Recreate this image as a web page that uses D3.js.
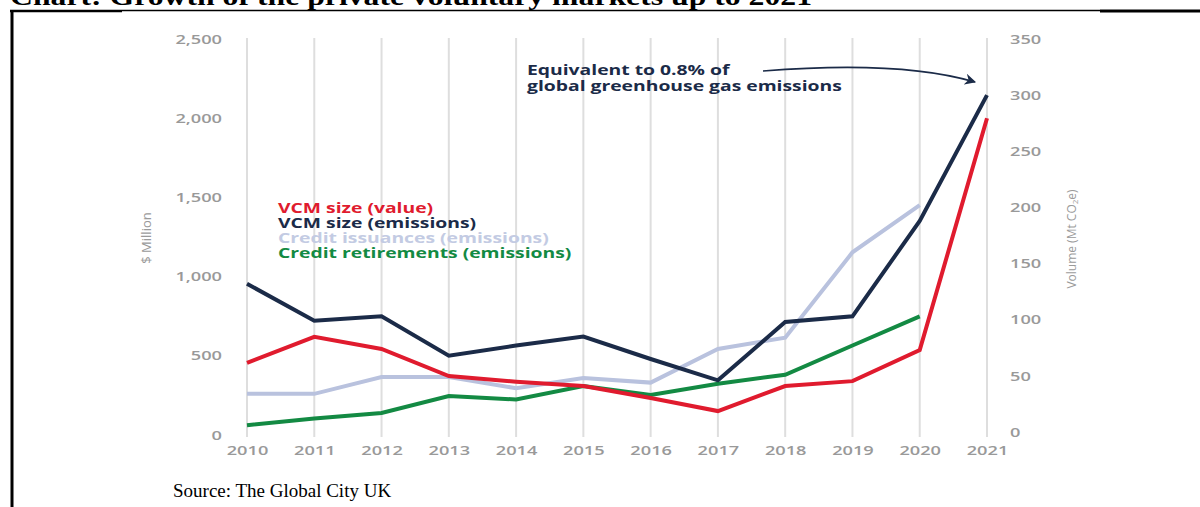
<!DOCTYPE html>
<html><head><meta charset="utf-8">
<script src="https://cdn.jsdelivr.net/npm/d3@7"></script>
<style>body{margin:0;background:#fff;}svg{display:block;}</style>
</head><body>
<svg id="c" width="1200" height="507"></svg>
<script>
const years = [2010,2011,2012,2013,2014,2015,2016,2017,2018,2019,2020,2021];
const vcmValue = [455,620,543,372,336,309,233,151,309,340,536,2000];
const vcmEmissions = [132,99,103,68,77,85,65,46,98,103,188,300];
const issuances = [34,34,49,49,39,48,44,74,84,160,202];
const retirements = [6,12,17,32,29,41,33,43,51,77,103];
const leftTicks = [0,500,1000,1500,2000,2500];
const rightTicks = [0,50,100,150,200,250,300,350];

const svg = d3.select("#c");
const sans = "'Open Sans', sans-serif";
const SX = 1.4; // horizontal stretch of the original raster

// frame & title
svg.append("text").attr("transform","translate(10,5) scale(1.22,1)").attr("font-family","'Liberation Serif', serif")
  .attr("font-weight","bold").attr("font-size",26).attr("fill","#000")
  .text("Chart: Growth of the private voluntary markets up to 2021");
svg.append("line").attr("x1",10).attr("x2",122).attr("y1",11).attr("y2",11).attr("stroke","#000").attr("stroke-width",2.5);
svg.append("line").attr("x1",122).attr("x2",1100).attr("y1",10.5).attr("y2",10.5).attr("stroke","#000").attr("stroke-width",1.5);
svg.append("line").attr("x1",1100).attr("x2",1200).attr("y1",11).attr("y2",11).attr("stroke","#000").attr("stroke-width",3);
svg.append("line").attr("x1",12).attr("x2",12).attr("y1",10).attr("y2",507).attr("stroke","#000").attr("stroke-width",3);

const x = d3.scalePoint().domain(years).range([247,987]);
const yL = d3.scaleLinear().domain([0,2500]).range([435,39]);
const yR = d3.scaleLinear().domain([0,350]).range([432,39]);

// vertical gridlines
svg.append("g").selectAll("line").data(years).join("line")
  .attr("x1",d=>x(d)).attr("x2",d=>x(d)).attr("y1",38).attr("y2",437)
  .attr("stroke","#dedede").attr("stroke-width",2);

// axes
const gL = svg.append("g").attr("transform","translate(222,0)")
  .call(d3.axisLeft(yL).tickValues(leftTicks).tickSize(0).tickPadding(0).tickFormat(d3.format(",")));
const gR = svg.append("g").attr("transform","translate(1010,0)")
  .call(d3.axisRight(yR).tickValues(rightTicks).tickSize(0).tickPadding(0));
const gX = svg.append("g").attr("transform","translate(0,446)")
  .call(d3.axisBottom(x).tickSize(0).tickPadding(0).tickFormat(d3.format("d")));
[gL,gR,gX].forEach(g=>{
  g.select(".domain").remove();
  g.selectAll("text").attr("font-family",sans).attr("font-weight",600).attr("font-size",13)
    .attr("fill","#999").attr("transform",`scale(${SX},1)`);
});
gX.selectAll("text").attr("dy","0.71em");

svg.append("text").attr("transform","translate(151,238) rotate(-90)").attr("text-anchor","middle")
  .attr("font-family",sans).attr("font-size",13).attr("fill","#9a9a9a").text("$ Million");
const vt = svg.append("text").attr("transform","translate(1076,239) rotate(-90)").attr("text-anchor","middle")
  .attr("font-family",sans).attr("font-size",12).attr("fill","#9a9a9a");
vt.append("tspan").text("Volume (Mt CO");
vt.append("tspan").attr("font-size",8).attr("dy",2).text("2");
vt.append("tspan").attr("dy",-2).text("e)");

// lines
function draw(data, y, color){
  const line = d3.line().x((d,i)=>x(years[i])).y(d=>y(d));
  svg.append("path").datum(data).attr("d",line).attr("fill","none")
    .attr("stroke",color).attr("stroke-width",4).attr("stroke-linejoin","miter");
}
draw(issuances, yR, "#b9c2de");
draw(retirements, yR, "#138a43");
draw(vcmValue, yL, "#e01b2e");
draw(vcmEmissions, yR, "#1b2b48");

// legend
const legend = [["VCM size (value)","#e01b2e"],["VCM size (emissions)","#1b2b48"],["Credit issuances (emissions)","#c3cbe3"],["Credit retirements (emissions)","#138a43"]];
svg.append("g").attr("transform",`translate(278,0) scale(${1.38},1)`).selectAll("text").data(legend).join("text")
  .attr("x",0).attr("y",(d,i)=>208+i*15).attr("dy","0.35em")
  .attr("font-family",sans).attr("font-weight","bold").attr("font-size",14)
  .attr("fill",d=>d[1]).text(d=>d[0]);

// annotation
const ann = svg.append("text").attr("transform",`translate(527,0) scale(1.38,1)`)
  .attr("font-family",sans).attr("font-weight","bold").attr("font-size",14).attr("fill","#1b2b48");
ann.append("tspan").attr("x",0).attr("y",70).attr("dy","0.35em").text("Equivalent to 0.8% of");
ann.append("tspan").attr("x",0).attr("y",86).attr("dy","0.35em").text("global greenhouse gas emissions");
svg.append("defs").append("marker").attr("id","ah").attr("viewBox","0 0 10 10").attr("refX",9).attr("refY",5)
  .attr("markerWidth",7).attr("markerHeight",7).attr("orient","auto")
  .append("path").attr("d","M0,0 L10,5 L0,10 L3,5 Z").attr("fill","#1b2b48");
svg.append("path").attr("d","M763,71 Q900,60 975,82").attr("fill","none").attr("stroke","#1b2b48")
  .attr("stroke-width",1.6).attr("marker-end","url(#ah)");

// source
svg.append("text").attr("x",173).attr("y",497).attr("font-family","'Liberation Serif', serif")
  .attr("font-size",19).attr("fill","#000").text("Source: The Global City UK");
</script>
</body></html>
